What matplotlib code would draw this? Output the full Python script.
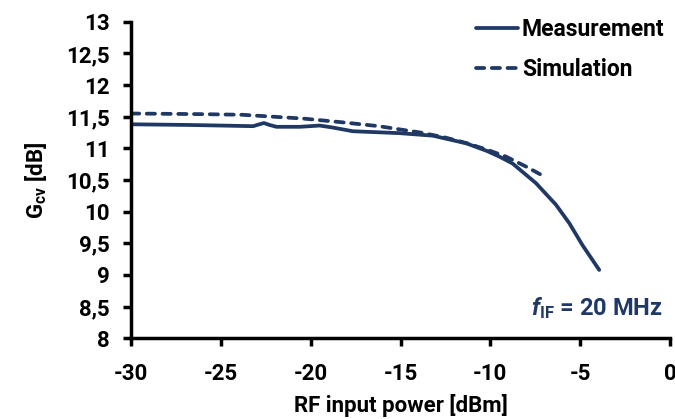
import numpy as np
import matplotlib.pyplot as plt

plt.rcParams['font.family'] = ['Roboto', 'DejaVu Sans']
plt.rcParams['font.weight'] = 'bold'
plt.rcParams['axes.unicode_minus'] = False
plt.rcParams['mathtext.fontset'] = 'custom'
plt.rcParams['mathtext.rm'] = 'Roboto:bold'
plt.rcParams['mathtext.bf'] = 'Roboto:bold'
plt.rcParams['mathtext.it'] = 'Roboto:bold:italic'
plt.rcParams['mathtext.bfit'] = 'Roboto:bold:italic'

# measured conversion gain vs RF input power
meas_x = [-30, -27, -25, -23.2, -22.85, -22.6, -22.3, -21.9, -20.6, -19.5, -18.8, -17.65,
          -15.06, -13.2, -11.35, -10.2, -9.5, -8.76, -7.46, -6.35, -5.61, -4.87, -3.94]
meas_y = [11.38, 11.37, 11.36, 11.35, 11.38, 11.40, 11.37, 11.34, 11.34, 11.36, 11.33, 11.27,
          11.24, 11.20, 11.08, 10.96, 10.87, 10.76, 10.45, 10.11, 9.82, 9.47, 9.08]

# simulated conversion gain
sim_x = [-30, -26, -23.8, -20.4, -18.2, -16.2, -15.06, -13.9, -12.5, -11.3, -10.2, -9.13, -8.0, -6.9]
sim_y = [11.55, 11.54, 11.53, 11.47, 11.41, 11.35, 11.30, 11.25, 11.17, 11.08, 10.98, 10.87, 10.71, 10.54]

xticks = [-30, -25, -20, -15, -10, -5, 0]
yticks = np.arange(8, 13.01, 0.5)
ylabels = [('%g' % v).replace('.', ',') for v in yticks]

col = '#1f3864'

fig = plt.figure(figsize=(6.75, 4.19), dpi=100)
ax = fig.add_axes([131 / 675, 80.7 / 419, 539 / 675, 316.6 / 419])

ax.plot(meas_x, meas_y, color=col, lw=2.7, label='Measurement', solid_capstyle='round')
ax.plot(sim_x, sim_y, color=col, lw=2.7, ls=(0, (2.2, 2.0)), dash_capstyle='round',
        label='Simulation')

ax.set_xlim(-30, 0)
ax.set_ylim(8, 13)
ax.set_xticks(xticks)
ax.set_yticks(yticks)
ax.set_yticklabels(ylabels)
for s in ['top', 'right']:
    ax.spines[s].set_visible(False)
for s in ['left', 'bottom']:
    ax.spines[s].set_linewidth(2.5)
ax.tick_params(width=2.5, length=5.5, labelsize=16, direction='out')
ax.tick_params(axis='x', pad=12)
ax.tick_params(axis='y', pad=10)

ax.set_xlabel('RF input power [dBm]', fontsize=16, fontweight='bold', labelpad=7)
ax.set_ylabel(r'$\mathregular{G_{cv}}$ [dB]', fontsize=16, fontweight='bold', labelpad=12)

ax.legend(loc='upper left', frameon=False, fontsize=16.5, handlelength=1.85,
          handletextpad=0.15, bbox_to_anchor=(476 / 675, 1 - 18 / 419),
          bbox_transform=fig.transFigure, borderpad=0, borderaxespad=0, labelspacing=0.75)

ax.text(663 / 675, 1 - 308 / 419, r'$\mathbfit{f}_{\mathregular{IF}}$ = 20 MHz',
        transform=fig.transFigure, ha='right', va='center', color=col,
        fontsize=17, fontweight='bold')

fig.savefig('out.png', dpi=100)
